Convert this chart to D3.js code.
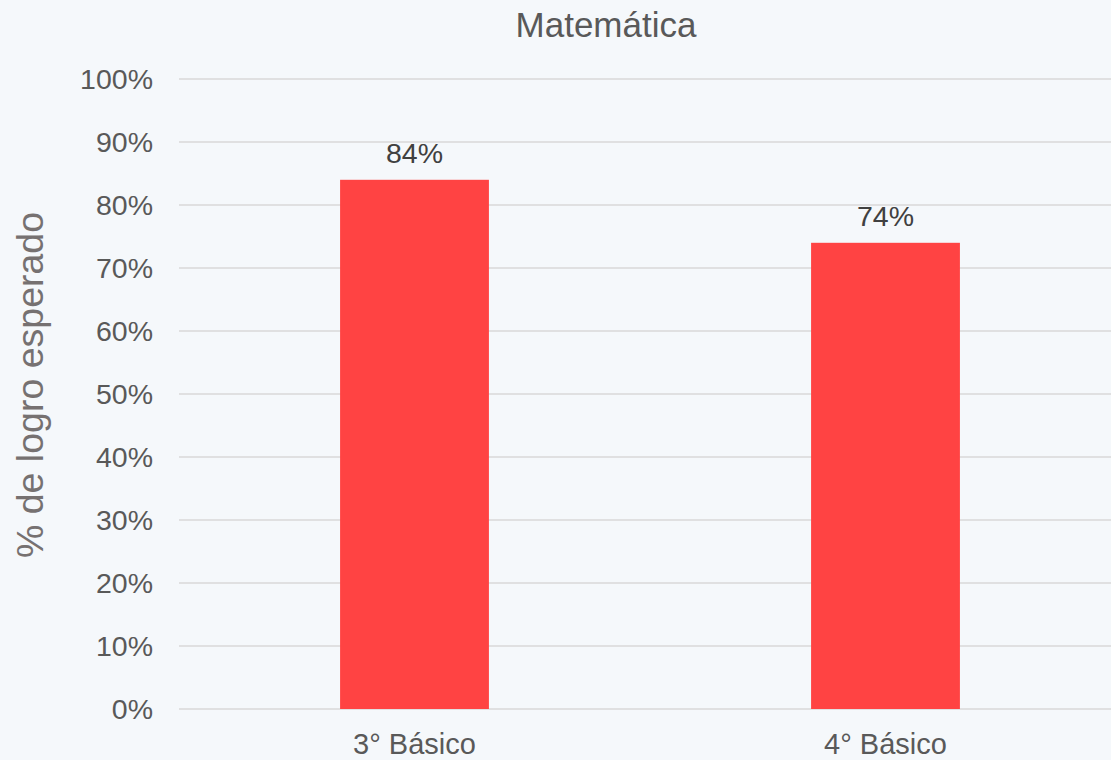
<!DOCTYPE html>
<html>
<head>
<meta charset="utf-8">
<script src="https://cdn.jsdelivr.net/npm/d3@7"></script>
<style>
  html, body { margin: 0; padding: 0; background: #f5f8fb; }
  svg { display: block; }
  text { font-family: "Liberation Sans", Arial, sans-serif; }
</style>
</head>
<body>
<svg id="chart" width="1111" height="760"></svg>
<script>
const categories = ["3° Básico", "4° Básico"];
const values = [0.84, 0.74];
const valueLabels = ["84%", "74%"];
const yTicks = [0, 0.1, 0.2, 0.3, 0.4, 0.5, 0.6, 0.7, 0.8, 0.9, 1.0];
const title = "Matemática";
const yTitle = "% de logro esperado";

const svg = d3.select("#chart");
svg.append("rect").attr("width", 1111).attr("height", 760).attr("fill", "#f5f8fb");

const x = d3.scaleBand().domain(categories).range([179, 1121]).paddingInner(0.684).paddingOuter(0.342);
const y = d3.scaleLinear().domain([0, 1]).range([709, 79]);

// gridlines
svg.append("g").selectAll("line").data(yTicks).join("line")
  .attr("x1", 179).attr("x2", 1111)
  .attr("y1", d => y(d)).attr("y2", d => y(d))
  .attr("stroke", "#d9d9d9").attr("stroke-width", 1.5);

// y tick labels
const fmt = d3.format(".0%");
svg.append("g").selectAll("text").data(yTicks).join("text")
  .attr("x", 153).attr("y", d => y(d)).attr("dy", "0.36em")
  .attr("text-anchor", "end").attr("font-size", 28.5).attr("fill", "#595959")
  .text(d => fmt(d));

// bars
svg.append("g").selectAll("rect").data(categories).join("rect")
  .attr("x", d => x(d)).attr("width", x.bandwidth())
  .attr("y", (d, i) => y(values[i])).attr("height", (d, i) => y(0) - y(values[i]))
  .attr("fill", "#ff4343");

// data labels
svg.append("g").selectAll("text").data(categories).join("text")
  .attr("x", d => x(d) + x.bandwidth() / 2)
  .attr("y", (d, i) => y(values[i]) - 17)
  .attr("text-anchor", "middle").attr("font-size", 28.5).attr("fill", "#404040")
  .text((d, i) => valueLabels[i]);

// category labels
svg.append("g").selectAll("text").data(categories).join("text")
  .attr("x", d => x(d) + x.bandwidth() / 2).attr("y", 754)
  .attr("text-anchor", "middle").attr("font-size", 29).attr("fill", "#595959")
  .text(d => d);

// title
svg.append("text").attr("x", 606).attr("y", 37)
  .attr("text-anchor", "middle").attr("font-size", 35).attr("fill", "#595959")
  .text(title);

// y title
svg.append("text").attr("transform", "translate(43,385) rotate(-90)")
  .attr("text-anchor", "middle").attr("font-size", 37.5).attr("fill", "#767171")
  .text(yTitle);
</script>
</body>
</html>
